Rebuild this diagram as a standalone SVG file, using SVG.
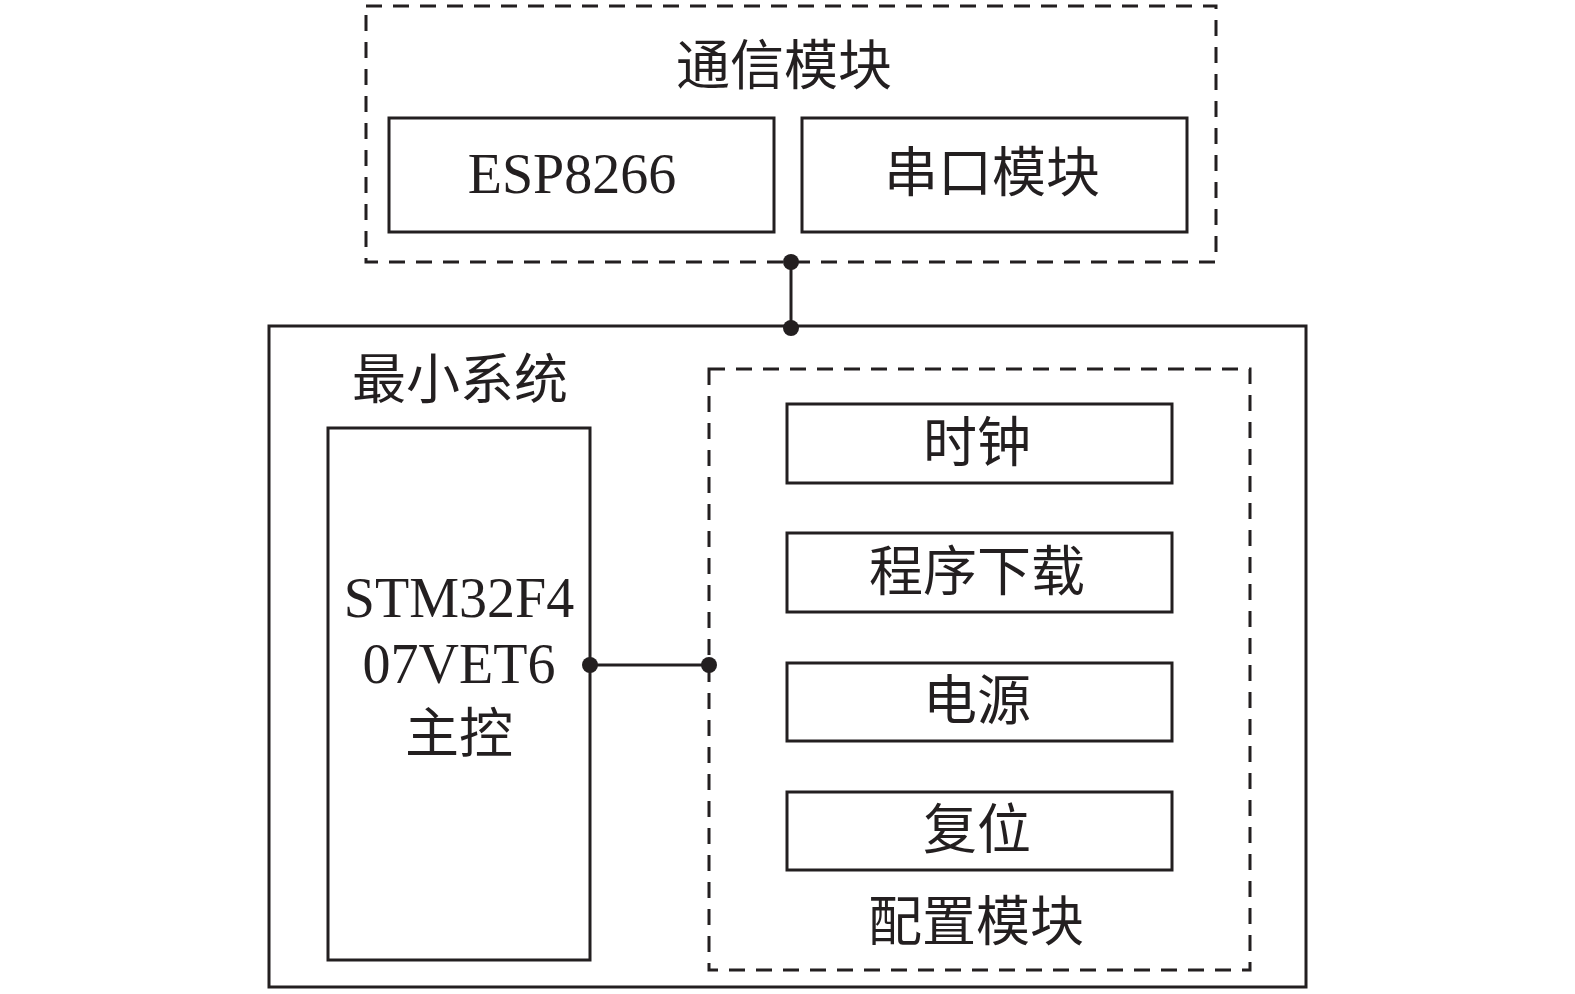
<svg xmlns="http://www.w3.org/2000/svg" width="1575" height="994" viewBox="0 0 1575 994">
<style>
.box{fill:none;stroke:#231f20;stroke-width:3}
.dash{fill:none;stroke:#231f20;stroke-width:3;stroke-dasharray:16 11}
.ln{stroke:#231f20;stroke-width:3;fill:none}
.dot{fill:#231f20}
.t{font-family:"Liberation Serif","Noto Sans CJK SC",serif;font-size:56px;fill:#231f20;text-anchor:middle}
.c{font-family:"Noto Sans CJK SC",sans-serif;font-size:54px;fill:#231f20;text-anchor:middle}
</style>
<rect width="1575" height="994" fill="#fff"/>
<g id="comm">
<rect class="dash" x="366" y="6" width="850" height="256"/>
<text class="c" x="784" y="85">通信模块</text>
</g>
<g id="esp">
<rect class="box" x="389" y="118" width="385" height="114"/>
<text class="t" x="572" y="193">ESP8266</text>
</g>
<g id="serial">
<rect class="box" x="802" y="118" width="385" height="114"/>
<text class="c" x="992" y="192">串口模块</text>
</g>
<g id="minsys">
<rect class="box" x="269" y="326" width="1037" height="661"/>
<text class="c" x="460" y="399">最小系统</text>
</g>
<g id="mcu">
<rect class="box" x="328" y="428" width="262" height="532"/>
<text class="t" x="459" y="617">STM32F4</text>
<text class="t" x="459" y="683">07VET6</text>
<text class="c" x="459" y="753">主控</text>
</g>
<g id="config">
<rect class="dash" x="709" y="369" width="541" height="601"/>
<text class="c" x="976" y="941">配置模块</text>
</g>
<g id="clock">
<rect class="box" x="787" y="404" width="385" height="79"/>
<text class="c" x="977" y="462">时钟</text>
</g>
<g id="download">
<rect class="box" x="787" y="533" width="385" height="79"/>
<text class="c" x="977" y="591">程序下载</text>
</g>
<g id="power">
<rect class="box" x="787" y="663" width="385" height="78"/>
<text class="c" x="977" y="720">电源</text>
</g>
<g id="reset">
<rect class="box" x="787" y="792" width="385" height="78"/>
<text class="c" x="977" y="849">复位</text>
</g>
<g id="connectors">
<line class="ln" x1="791" y1="262" x2="791" y2="328"/>
<circle class="dot" cx="791" cy="262" r="8"/>
<circle class="dot" cx="791" cy="328" r="8"/>
<line class="ln" x1="590" y1="665" x2="709" y2="665"/>
<circle class="dot" cx="590" cy="665" r="8"/>
<circle class="dot" cx="709" cy="665" r="8"/>
</g>
</svg>
